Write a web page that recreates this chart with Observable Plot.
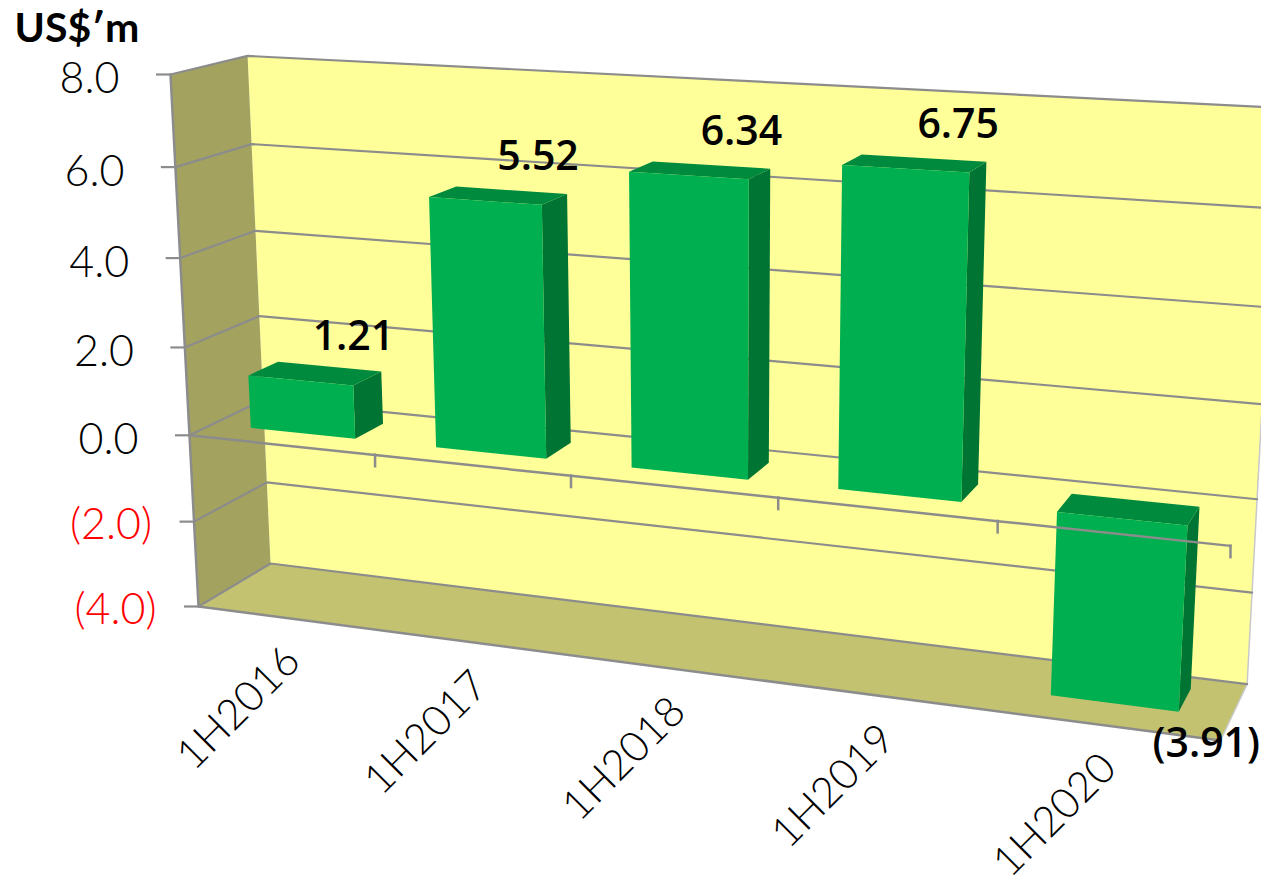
<!DOCTYPE html>
<html>
<head>
<meta charset="utf-8">
<script src="https://cdn.jsdelivr.net/npm/d3@7"></script>
<script src="https://cdn.jsdelivr.net/npm/@observablehq/plot@0.6"></script>
<style>
  html, body { margin: 0; padding: 0; background: #fff; overflow: hidden; }
  svg { display: block; }
</style>
</head>
<body>
<div id="chart"></div>
<script>
// Half-year results in US$ millions
const categories = ["1H2016", "1H2017", "1H2018", "1H2019", "1H2020"];
const profits = [1.21, 5.52, 6.34, 6.75, -3.91];
const profitLabels = ["1.21", "5.52", "6.34", "6.75", "(3.91)"];
const yTicks = [8, 6, 4, 2, 0, -2, -4];
const yTickLabels = ["8.0", "6.0", "4.0", "2.0", "0.0", "(2.0)", "(4.0)"];
const unitLabel = ["US$\u2032m"];

// Perspective camera: the box's corner at (first category, lowest value, front)
// and its three neighbouring corners, with a homogeneous weight for each axis.
const corner = {o: [198, 606], u: [1220, 740], v: [170, 74], d: [270, 563]};
const weight = {u: 0.87, v: 0.949, d: 1.05};
const yMin = -4, yMax = 8;

// Maps category position, value and depth (0 front, 1 back) to chart coordinates.
function project(cat, value, depth) {
  const u = cat / categories.length;
  const v = (value - yMin) / (yMax - yMin);
  const d = depth;
  const wo = 1 - u - v - d;
  const wu = weight.u * u, wv = weight.v * v, wd = weight.d * d;
  const w = wo + wu + wv + wd;
  return {
    x: (wo * corner.o[0] + wu * corner.u[0] + wv * corner.v[0] + wd * corner.d[0]) / w,
    y: (wo * corner.o[1] + wu * corner.u[1] + wv * corner.v[1] + wd * corner.d[1]) / w
  };
}

const n = categories.length;
const tag = (id, pts) => pts.map((p) => ({...p, id}));

// Walls and floor of the box
const backWall = [project(0, yMin, 1), project(n, yMin, 1), project(n, yMax, 1), project(0, yMax, 1)];
const sideWall = [project(0, yMin, 0), project(0, yMin, 1), project(0, yMax, 1), project(0, yMax, 0)];
const floor = [project(0, yMin, 0), project(n, yMin, 0), project(n, yMin, 1), project(0, yMin, 1)];

// Gridlines run along the side wall, then along the back wall
const gridlines = yTicks.flatMap((t) =>
  tag("g" + t, [project(0, t, 0), project(0, t, 1), project(n, t, 1)])
);

// Each column is a box with a front, a top cap and a right side
const barLeft = 0.21, barRight = 0.78, barFront = 0.31, barBack = 0.72;
const faces = (kind) => profits.flatMap((val, i) => {
  const l = i + barLeft, r = i + barRight;
  const top = Math.max(val, 0), bottom = Math.min(val, 0);
  const f = barFront, b = barBack;
  const quad =
    kind === "front" ? [project(l, top, f), project(r, top, f), project(r, bottom, f), project(l, bottom, f)] :
    kind === "top" ? [project(l, top, f), project(r, top, f), project(r, top, b), project(l, top, b)] :
    [project(r, top, f), project(r, top, b), project(r, bottom, b), project(r, bottom, f)];
  return tag(kind + i, quad);
});

const barTip = (d, i) => project(i + (barLeft + barRight) / 2, d, barFront);
const positive = profits.map((d, i) => i).filter((i) => profits[i] >= 0);
const negative = profits.map((d, i) => i).filter((i) => profits[i] < 0);

const axisTicks = d3.range(1, n + 1).map((k) => {
  const p = project(k, 0, 0);
  return {x: p.x, y1: p.y - 1, y2: p.y + 13};
});
const yTickRows = yTicks.map((t, i) => {
  const p = project(0, t, 0);
  return {x1: p.x - 14, x2: p.x, y: p.y, label: yTickLabels[i], neg: t < 0};
});

const poly = (pts, fill) => Plot.line(pts, {x: "x", y: "y", z: "id", fill, stroke: "none", curve: "linear-closed"});
const tickFont = {fontFamily: "Lato", fontWeight: 300, fontSize: 43};
const categoryFont = {fontFamily: "Lato", fontWeight: 300, fontSize: 42};
const valueFont = {fontFamily: "'Open Sans'", fontWeight: 600, fontSize: 41, fill: "#000"};
const grey = "#8c8c8c";

const chart = Plot.plot({
  width: 1261,
  height: 877,
  margin: 0,
  style: {background: "#fff"},
  x: {domain: [0, 1261], range: [0, 1261], axis: null},
  y: {domain: [0, 877], range: [0, 877], axis: null},
  marks: [
    poly(tag("back", backWall), "#ffff99"),
    poly(tag("side", sideWall), "#a3a35f"),
    poly(tag("floor", floor), "#c2c270"),
    // Frame edges
    Plot.line([project(0, yMax, 0), project(0, yMin, 0), project(n, yMin, 0)], {x: "x", y: "y", stroke: grey, strokeWidth: 2.5}),
    Plot.line([project(n, yMin, 0), project(n, yMin, 1), project(n, yMax, 1)], {x: "x", y: "y", stroke: "#c9c9c9", strokeWidth: 1.5}),
    Plot.line(gridlines, {x: "x", y: "y", z: "id", stroke: grey, strokeWidth: 2.2}),
    // Columns
    poly(faces("side"), "#007533"),
    poly(faces("top"), "#008a3e"),
    poly(faces("front"), "#00b050"),
    // Zero axis along the front of the box, with its category ticks
    Plot.line(d3.range(0, n + 1).map((k) => project(k, 0, 0)), {x: "x", y: "y", stroke: grey, strokeWidth: 2.5}),
    Plot.ruleX(axisTicks, {x: "x", y1: "y1", y2: "y2", stroke: grey, strokeWidth: 2.5}),
    Plot.ruleY(yTickRows, {y: "y", x1: "x1", x2: "x2", stroke: grey, strokeWidth: 2.2}),
    // Value axis labels
    Plot.text(yTickRows.filter((d) => !d.neg), {x: "x1", y: "y", text: "label", textAnchor: "end", dx: -37, dy: 5, fill: "#000", ...tickFont}),
    Plot.text(yTickRows.filter((d) => d.neg), {x: "x1", y: "y", text: "label", textAnchor: "end", dx: -28, dy: 4, fill: "#ff0000", ...tickFont}),
    // Category labels
    Plot.text(categories, {
      x: (d, i) => project(i + 0.5, yMin, 0).x,
      y: (d, i) => project(i + 0.5, yMin, 0).y,
      text: (d) => d, rotate: -45, dx: -50, dy: 90, fill: "#000", ...categoryFont
    }),
    // Value labels
    Plot.text(positive, {
      x: (i) => barTip(profits[i], i).x,
      y: (i) => barTip(profits[i], i).y,
      text: (i) => profitLabels[i], dx: 53, dy: -44, ...valueFont
    }),
    Plot.text(negative, {
      x: (i) => barTip(profits[i], i).x,
      y: (i) => barTip(profits[i], i).y,
      text: (i) => profitLabels[i], dx: 92, dy: 40, ...valueFont
    }),
    // Unit heading
    Plot.text(unitLabel, {x: [14], y: [28], text: (d) => d, textAnchor: "start", fontFamily: "Lato", fontWeight: 700, fontSize: 41, fill: "#000"})
  ]
});
document.getElementById("chart").appendChild(chart);
</script>
</body>
</html>
